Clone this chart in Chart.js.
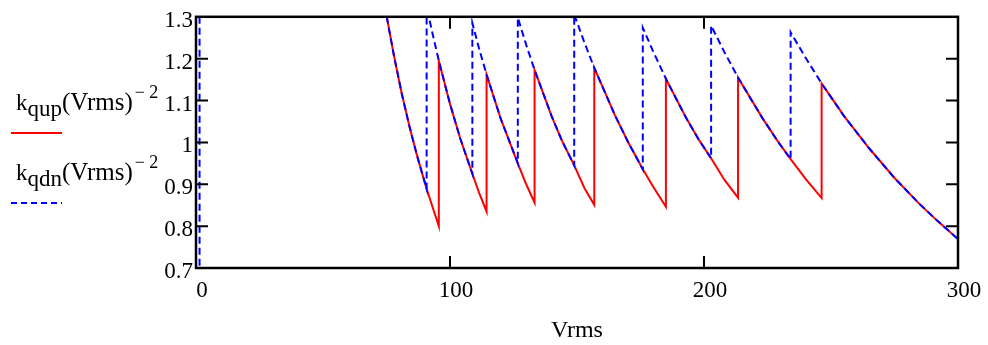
<!DOCTYPE html>
<html>
<head>
<meta charset="utf-8">
<title>kqup / kqdn vs Vrms</title>
<script src="https://cdn.jsdelivr.net/npm/chart.js@4.4.1/dist/chart.umd.min.js"></script>
<style>
    body {
        margin: 0;
        background: #fff;
    }

    #wrap {
        position: relative;
        width: 988px;
        height: 345px;
    }
</style>
</head>
<body>
<div id="wrap">
    <canvas id="myChart" width="988" height="345"></canvas>
</div>
<script>
const SERIF = '"Liberation Serif", "Times New Roman", serif';

// k_qup(Vrms)^-2  (red, solid)
let qupV = [75.1, 78, 81, 84, 87, 90.8, 93, 95.6,
    95.6, 100, 104, 108.8, 111.5, 114.4,
    114.4, 120, 126.7, 130, 133.3,
    133.3, 140, 144, 148.9, 153, 156.8,
    156.8, 165, 170, 175.9, 180, 185,
    185, 193, 198, 202.8, 208, 213.4,
    213.4, 223, 229, 234.1, 240, 246.3,
    246.3, 255, 265, 275, 285, 292, 300];
let qupK = [1.300, 1.205, 1.117, 1.039, 0.969, 0.889, 0.848, 0.800,
    1.195, 1.092, 1.010, 0.925, 0.879, 0.835,
    1.162, 1.056, 0.950, 0.900, 0.856,
    1.173, 1.063, 1.005, 0.945, 0.890, 0.851,
    1.178, 1.064, 1.002, 0.936, 0.894, 0.846,
    1.152, 1.058, 1.006, 0.962, 0.911, 0.868,
    1.155, 1.058, 1.003, 0.960, 0.913, 0.867,
    1.141, 1.064, 0.986, 0.915, 0.852, 0.812, 0.769];

// k_qdn(Vrms)^-2  (blue, dashed) - null = gap
let qdnV = [1.4, 1.4, 40,
    75.1, 78, 81, 84, 87, 90.8,
    90.8, 93, 95.6, 100, 104, 108.8,
    108.8, 111.5, 114.4, 120, 126.7,
    126.7, 130, 133.3, 140, 144, 148.9,
    148.9, 153, 156.8, 165, 170, 175.9,
    175.9, 180, 185, 193, 198, 202.8,
    202.8, 208, 213.4, 223, 229, 234.1,
    234.1, 240, 246.3, 255, 265, 275, 285, 292, 300];
let qdnK = [0.6, 1.4, null,
    1.300, 1.205, 1.117, 1.039, 0.969, 0.889,
    1.325, 1.263, 1.195, 1.092, 1.010, 0.925,
    1.285, 1.223, 1.162, 1.056, 0.950,
    1.298, 1.233, 1.173, 1.063, 1.005, 0.945,
    1.306, 1.237, 1.178, 1.064, 1.002, 0.936,
    1.274, 1.217, 1.152, 1.058, 1.006, 0.962,
    1.279, 1.216, 1.155, 1.058, 1.003, 0.960,
    1.263, 1.202, 1.141, 1.064, 0.986, 0.915, 0.852, 0.812, 0.769];

let xTicks = [0, 100, 200, 300];
let xTickLabels = ['0', '100', '200', '300'];
let yTicks = [0.7, 0.8, 0.9, 1.0, 1.1, 1.2, 1.3];
let yTickLabels = ['0.7', '0.8', '0.9', '1', '1.1', '1.2', '1.3'];

let legendItems = [
    { name: 'k', sub: 'qup', color: '#ff0000', dash: [] },
    { name: 'k', sub: 'qdn', color: '#0000ff', dash: [6, 4] }
];


function toPoints(xs, ys) {
    let points = [];
    for (let i = 0; i < xs.length; i++) {
        points.push({ x: xs[i], y: ys[i] });
    }
    return points;
}


/*---------------------------frame, inner ticks, legend---------------------------*/

const framePlugin = {
    id: 'frame',
    afterDraw(chart) {
        let ctx = chart.ctx;
        let area = chart.chartArea;
        let xScale = chart.scales.x;
        let yScale = chart.scales.y;
        ctx.save();
        ctx.strokeStyle = '#000';
        ctx.lineWidth = 2.5;
        ctx.strokeRect(area.left, area.top, area.right - area.left, area.bottom - area.top);

        ctx.lineWidth = 2;
        ctx.beginPath();
        for (let i = 1; i < xTicks.length - 1; i++) {
            let px = xScale.getPixelForValue(xTicks[i]);
            ctx.moveTo(px, area.bottom);
            ctx.lineTo(px, area.bottom - 12);
            ctx.moveTo(px, area.top);
            ctx.lineTo(px, area.top + 12);
        }
        for (let i = 1; i < yTicks.length - 1; i++) {
            let py = yScale.getPixelForValue(yTicks[i]);
            ctx.moveTo(area.left, py);
            ctx.lineTo(area.left + 12, py);
            ctx.moveTo(area.right, py);
            ctx.lineTo(area.right - 12, py);
        }
        ctx.stroke();

        drawLegend(ctx);
        ctx.restore();
    }
};

function drawLegend(ctx) {
    for (let i = 0; i < legendItems.length; i++) {
        const item = legendItems[i];
        let base = 110 + i * 70;
        let x = 16;
        ctx.fillStyle = '#000';
        ctx.textBaseline = 'alphabetic';
        ctx.textAlign = 'left';

        ctx.font = `23px ${SERIF}`;
        ctx.fillText(item.name, x, base);
        x += ctx.measureText(item.name).width;

        ctx.font = `23px ${SERIF}`;
        ctx.fillText(item.sub, x, base + 6);
        x += ctx.measureText(item.sub).width;

        ctx.font = `25px ${SERIF}`;
        ctx.fillText('(Vrms)', x, base);
        x += ctx.measureText('(Vrms)').width + 2;

        ctx.font = `18px ${SERIF}`;
        ctx.fillText('\u2212 2', x, base - 12);

        ctx.strokeStyle = item.color;
        ctx.lineWidth = 2;
        ctx.setLineDash(item.dash);
        ctx.beginPath();
        ctx.moveTo(11, base + 23);
        ctx.lineTo(62, base + 23);
        ctx.stroke();
        ctx.setLineDash([]);
    }
}


/*---------------------------chart---------------------------*/

function chart() {
    const data = {
        datasets: [{
            label: 'kqup',
            data: toPoints(qupV, qupK),
            borderColor: '#ff0000',
            borderWidth: 2,
            pointRadius: 0,
            spanGaps: false,
            order: 2
        }, {
            label: 'kqdn',
            data: toPoints(qdnV, qdnK),
            borderColor: '#0000ff',
            borderWidth: 2,
            borderDash: [7, 4],
            pointRadius: 0,
            spanGaps: false,
            order: 1
        }]
    };

    const config = {
        type: 'line',
        data: data,
        options: {
            responsive: false,
            animation: false,
            layout: {
                padding: { top: 12, right: 30, left: 0, bottom: 0 }
            },
            plugins: {
                legend: { display: false },
                tooltip: { enabled: false }
            },
            scales: {
                x: {
                    type: 'linear',
                    min: 0,
                    max: 300,
                    afterFit(scale) {
                        scale.height = 77;
                    },
                    afterBuildTicks(scale) {
                        scale.ticks = xTicks.map(v => ({ value: v }));
                    },
                    grid: { display: false, drawTicks: false },
                    border: { display: false },
                    ticks: {
                        color: '#000',
                        padding: 9,
                        labelOffset: 6,
                        maxRotation: 0,
                        font: { family: SERIF, size: 23 },
                        callback: (value, index) => xTickLabels[index]
                    },
                    title: {
                        display: true,
                        text: 'Vrms',
                        color: '#000',
                        font: { family: SERIF, size: 24 },
                        padding: { top: 0, bottom: 0 }
                    }
                },
                y: {
                    type: 'linear',
                    min: 0.7,
                    max: 1.3,
                    afterFit(scale) {
                        scale.width = 196;
                    },
                    afterBuildTicks(scale) {
                        scale.ticks = yTicks.map(v => ({ value: v }));
                    },
                    grid: { display: false, drawTicks: false },
                    border: { display: false },
                    ticks: {
                        color: '#000',
                        padding: 3,
                        labelOffset: 4,
                        font: { family: SERIF, size: 23 },
                        callback: (value, index) => yTickLabels[index]
                    }
                }
            }
        },
        plugins: [framePlugin]
    };

    new Chart(document.getElementById('myChart'), config);
}

chart();
</script>
</body>
</html>
